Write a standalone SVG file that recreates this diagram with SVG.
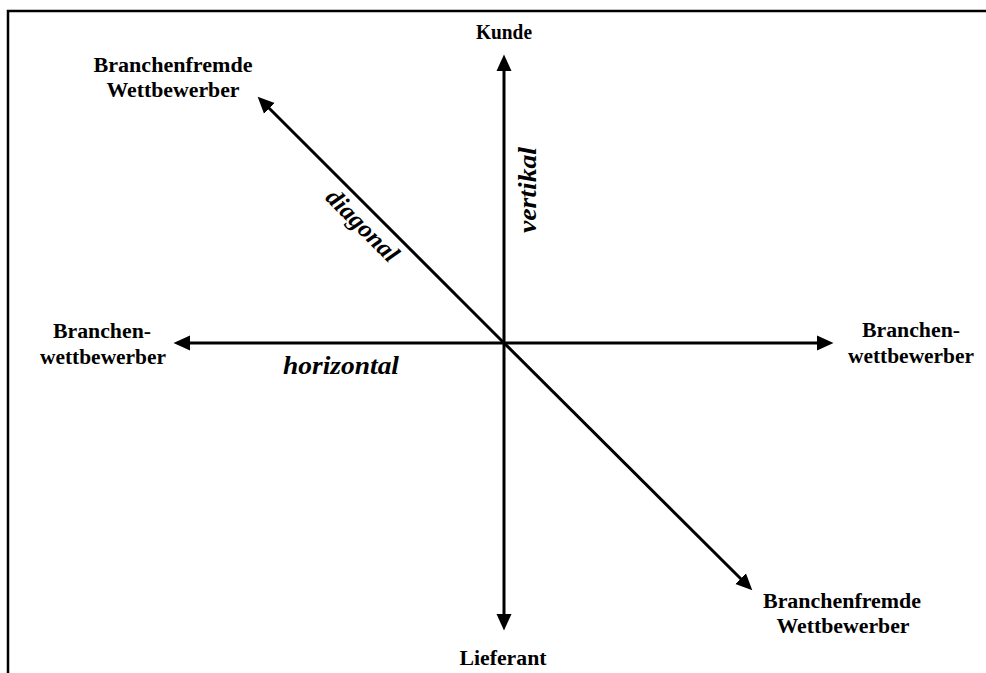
<svg xmlns="http://www.w3.org/2000/svg" width="986" height="673" viewBox="0 0 986 673">
<style>
.lbl{font-family:"Liberation Serif","Times New Roman",serif;font-weight:bold;font-size:20px;fill:#000;text-anchor:middle}
.axis{font-family:"Liberation Serif","Times New Roman",serif;font-weight:bold;font-style:italic;font-size:25px;fill:#000;text-anchor:middle}
.ln{stroke:#000;stroke-width:3;fill:none;marker-end:url(#ah)}
.frame{stroke:#000;stroke-width:2.5;fill:none}
</style>
<defs>
<marker id="ah" markerUnits="userSpaceOnUse" markerWidth="17" markerHeight="16" viewBox="0 0 17 16" refX="8" refY="8" orient="auto">
<path d="M0,0.5 L16.5,8 L0,15.5 z" fill="#000"/>
</marker>
</defs>
<rect width="986" height="673" fill="#fff"/>
<path class="frame" d="M8,673 L8,11 L986,11"/>
<g id="connectors">
<path class="ln" d="M504,343 L504,63"/>
<path class="ln" d="M504,343 L504,622"/>
<path class="ln" d="M504,343 L182,343"/>
<path class="ln" d="M504,343 L825,343"/>
<path class="ln" d="M504,343 L263.7,102.7"/>
<path class="ln" d="M504,343 L746.3,584.3"/>
</g>
<g id="kunde"><text class="lbl" x="504" y="39" textLength="56" lengthAdjust="spacingAndGlyphs">Kunde</text></g>
<g id="lieferant"><text class="lbl" x="503" y="665" textLength="87" lengthAdjust="spacingAndGlyphs">Lieferant</text></g>
<g id="branchenfremde-oben">
<text class="lbl" x="173" y="72" textLength="159" lengthAdjust="spacingAndGlyphs">Branchenfremde</text>
<text class="lbl" x="173" y="97" textLength="133" lengthAdjust="spacingAndGlyphs">Wettbewerber</text>
</g>
<g id="branchen-links">
<text class="lbl" x="102" y="338" textLength="98" lengthAdjust="spacingAndGlyphs">Branchen-</text>
<text class="lbl" x="103" y="364" textLength="126" lengthAdjust="spacingAndGlyphs">wettbewerber</text>
</g>
<g id="branchen-rechts">
<text class="lbl" x="911" y="337" textLength="98" lengthAdjust="spacingAndGlyphs">Branchen-</text>
<text class="lbl" x="911" y="363" textLength="126" lengthAdjust="spacingAndGlyphs">wettbewerber</text>
</g>
<g id="branchenfremde-unten">
<text class="lbl" x="842" y="608" textLength="158" lengthAdjust="spacingAndGlyphs">Branchenfremde</text>
<text class="lbl" x="843" y="633" textLength="133" lengthAdjust="spacingAndGlyphs">Wettbewerber</text>
</g>
<g id="label-horizontal"><text class="axis" x="341" y="374" textLength="116" lengthAdjust="spacingAndGlyphs">horizontal</text></g>
<g id="label-vertikal"><text class="axis" transform="translate(536,190) rotate(-90)" x="0" y="0" textLength="86" lengthAdjust="spacingAndGlyphs">vertikal</text></g>
<g id="label-diagonal"><text class="axis" transform="translate(361,227) rotate(45)" x="0" y="6" textLength="92" lengthAdjust="spacingAndGlyphs">diagonal</text></g>
</svg>
